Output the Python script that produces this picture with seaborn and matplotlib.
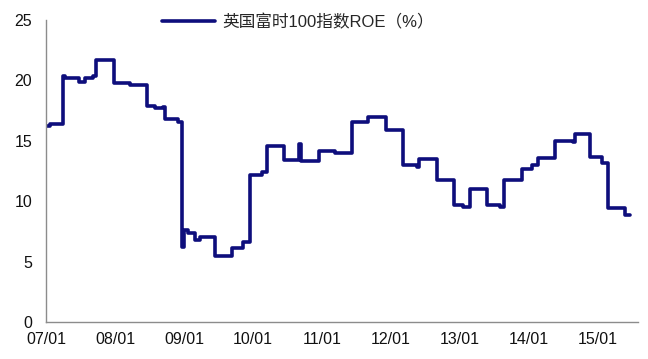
import matplotlib
matplotlib.use("Agg")
import matplotlib.pyplot as plt
import seaborn as sns
import pandas as pd

# months since 2007-01 at which the ROE value changes
months = [0, 0.7, 2.9, 3.3, 5.7, 6.8, 8.2, 8.7, 11.8, 14.6, 17.6, 19.0, 20.3, 20.7,
          23.0, 23.6, 24.0, 24.7, 25.9, 26.8, 29.4, 32.3, 34.3, 35.5, 37.6, 38.4,
          41.4, 44.0, 44.3, 47.4, 50.3, 53.2, 56.0, 59.1, 62.1, 64.5, 64.9, 68.0,
          71.0, 72.5, 73.7, 76.7, 79.0, 79.7, 82.7, 84.5, 85.6, 88.6, 91.6, 92.0,
          94.6, 96.7, 97.7, 100.7, 101.6]
roe = [16.2, 16.4, 20.4, 20.2, 19.9, 20.2, 20.4, 21.7, 19.8, 19.6, 17.9, 17.7, 17.8, 16.8,
       16.6, 6.2, 7.6, 7.4, 6.8, 7.0, 5.5, 6.1, 6.6, 12.2, 12.4, 14.6,
       13.4, 14.7, 13.3, 14.2, 14.0, 16.6, 17.0, 15.9, 13.0, 12.8, 13.5, 11.8,
       9.7, 9.5, 11.0, 9.7, 9.5, 11.75, 12.7, 13.0, 13.55, 15.0, 14.9, 15.6,
       13.7, 13.2, 9.45, 8.85, 8.85]
tick_months = [0, 12, 24, 36, 48, 60, 72, 84, 96]
tick_labels = ["07/01", "08/01", "09/01", "10/01", "11/01", "12/01", "13/01", "14/01", "15/01"]
series_name = "英国富时100指数ROE（%）"

df = pd.DataFrame({"month": months, "roe": roe})

sns.set_theme(style="white")
plt.rcParams["font.family"] = ["Liberation Sans", "Noto Sans CJK SC", "DejaVu Sans"]

fig = plt.figure(figsize=(6.48, 3.59), dpi=100)
ax = fig.add_axes([0.071, 0.103, 0.914, 0.841])

sns.lineplot(data=df, x="month", y="roe", ax=ax, drawstyle="steps-post",
             color="#0e0e7c", linewidth=2.6, label=series_name)

ax.set_xlim(0, 103)
ax.set_ylim(0, 25)
ax.set_yticks([0, 5, 10, 15, 20, 25])
ax.set_xticks(tick_months)
ax.set_xticklabels(tick_labels)
ax.set_xlabel("")
ax.set_ylabel("")

for s in ["top", "right"]:
    ax.spines[s].set_visible(False)
for s in ["left", "bottom"]:
    ax.spines[s].set_color("#8c8c8c")
    ax.spines[s].set_linewidth(1.0)

ax.tick_params(axis="both", which="major", direction="out", length=4, width=1,
               color="#8c8c8c", labelsize=11.5, labelcolor="#111111")
ax.tick_params(axis="y", pad=6)
ax.tick_params(axis="x", pad=3)

leg = ax.legend(loc="center left", bbox_to_anchor=(0.2495, 0.939),
                bbox_transform=fig.transFigure, frameon=False, borderpad=0,
                borderaxespad=0, handlelength=3.2, handletextpad=0.45,
                prop={"family": ["Liberation Sans", "Noto Sans CJK SC", "DejaVu Sans"],
                      "size": 12})

fig.savefig("out.png", dpi=100, facecolor="white")
